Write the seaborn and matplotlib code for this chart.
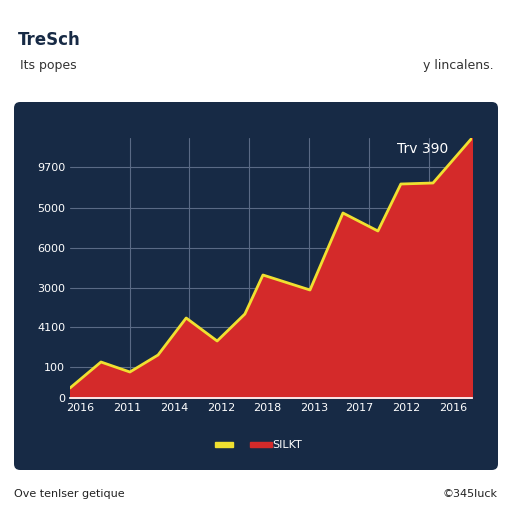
import matplotlib
matplotlib.use("Agg")
import matplotlib.pyplot as plt
import seaborn as sns
import pandas as pd
from matplotlib.patches import FancyBboxPatch

sns.set_theme(style="dark")
plt.rcParams['font.family'] = ['DejaVu Sans']

x_pos = [0.0, 0.077, 0.149, 0.219, 0.289, 0.366, 0.435, 0.480, 0.597, 0.679, 0.766, 0.823, 0.903, 1.0]
values = [10, 36, 26, 43, 80, 57, 84, 123, 108, 185, 167, 214, 215, 260]
ytick_vals = [0, 31, 71, 110, 150, 190, 231]
ytick_labels = ["0", "100", "4100", "3000", "6000", "5000", "9700"]
xtick_vals = [0.025, 0.142, 0.259, 0.376, 0.490, 0.607, 0.719, 0.836, 0.953]
xtick_labels = ["2016", "2011", "2014", "2012", "2018", "2013", "2017", "2012", "2016"]

df = pd.DataFrame({"x": x_pos, "y": values})
navy = "#172a45"

fig = plt.figure(figsize=(5.12, 5.12), dpi=100, facecolor="white")
fig.patches.append(FancyBboxPatch((14/512, 1-470/512), 484/512, 368/512,
                                  boxstyle="round,pad=0,rounding_size=0.012",
                                  transform=fig.transFigure, facecolor=navy, edgecolor="none", zorder=-1))
ax = fig.add_axes([70/512, 1-398/512, 402/512, 260/512])
ax.set_facecolor(navy)
ax.fill_between(df["x"], df["y"], color="#d42a2a", zorder=2)
sns.lineplot(data=df, x="x", y="y", ax=ax, color="#f0e030", linewidth=2, zorder=3)
ax.set_xlim(0, 1); ax.set_ylim(0, 260)
ax.set_yticks(ytick_vals); ax.set_yticklabels(ytick_labels)
ax.set_xticks(xtick_vals); ax.set_xticklabels(xtick_labels)
ax.tick_params(colors="white", labelsize=8, length=0)
for g in [0.149, 0.297, 0.446, 0.595, 0.744, 0.893]:
    ax.axvline(g, color="#5a6a85", lw=0.8, zorder=1)
for v in ytick_vals[1:]:
    ax.axhline(v, color="#5a6a85", lw=0.8, zorder=1)
ax.set_xlabel(""); ax.set_ylabel("")
for s in ax.spines.values():
    s.set_visible(False)
ax.spines["bottom"].set_visible(True); ax.spines["bottom"].set_color("white")
ax.text(0.94, 245, "Trv 390", color="white", fontsize=10, ha="right", zorder=4)

fig.text(18/512, 1-40/512, "TreSch", fontsize=12, fontweight="bold", color="#172a45", va="center")
fig.text(20/512, 1-65/512, "Its popes", fontsize=9, color="#333333", va="center")
fig.text(494/512, 1-65/512, "y lincalens.", fontsize=9, color="#333333", va="center", ha="right")
fig.patches.append(plt.Rectangle((215/512, 1-447/512), 18/512, 5/512, transform=fig.transFigure, color="#f0e030"))
fig.patches.append(plt.Rectangle((250/512, 1-447/512), 22/512, 5/512, transform=fig.transFigure, color="#d42a2a"))
fig.text(272/512, 1-445/512, "SILKT", fontsize=8, color="white", va="center")
fig.text(14/512, 1-494/512, "Ove tenlser getique", fontsize=8, color="#222222", va="center")
fig.text(497/512, 1-494/512, "©345luck", fontsize=8, color="#222222", va="center", ha="right")
fig.savefig("out.png", dpi=100, facecolor="white")
